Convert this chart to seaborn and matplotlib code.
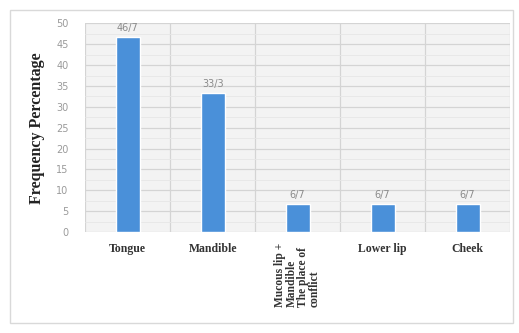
import matplotlib
matplotlib.use("Agg")
import matplotlib.pyplot as plt
from matplotlib.patches import Rectangle
from matplotlib.ticker import MultipleLocator
import seaborn as sns
import pandas as pd

# Lesion sites and their frequency percentages
sites = ["Tongue", "Mandible", "Mucous lip +\nMandible\nThe place of\nconflict", "Lower lip", "Cheek"]
percentages = [46.7, 33.3, 6.7, 6.7, 6.7]
value_labels = ["46/7", "33/3", "6/7", "6/7", "6/7"]
y_ticks = [0, 5, 10, 15, 20, 25, 30, 35, 40, 45, 50]

df = pd.DataFrame({"site": sites, "pct": percentages})

sns.set_theme(style="white")
plt.rcParams["font.family"] = ["DejaVu Sans"]

fig = plt.figure(figsize=(5.19, 3.33), dpi=100)
fig.patch.set_facecolor("white")
fig.add_artist(Rectangle((0.02, 0.03), 0.968, 0.94, transform=fig.transFigure,
                         fill=False, edgecolor="#d9d9d9", linewidth=1.0))

ax = fig.add_axes([0.164, 0.303, 0.819, 0.627])
ax.set_facecolor("#f3f3f3")

sns.barplot(data=df, x="site", y="pct", color="#4A90D9", width=0.28,
            saturation=1, ax=ax, zorder=3)

ax.set_ylim(0, 50)
ax.set_xlim(-0.5, len(sites) - 0.5)
ax.set_yticks(y_ticks)
ax.yaxis.set_minor_locator(MultipleLocator(2.5))
ax.set_xticks([i + 0.5 for i in range(-1, len(sites))], minor=True)

ax.grid(axis="y", which="major", color="#d4d4d4", linewidth=0.9, zorder=0)
ax.grid(axis="y", which="minor", color="#e6e6e6", linewidth=0.6, zorder=0)
ax.grid(axis="x", which="minor", color="#d4d4d4", linewidth=0.9, zorder=0)
ax.set_axisbelow(True)

for s in ax.spines.values():
    s.set_visible(False)

ax.tick_params(axis="both", which="both", length=0)
ax.tick_params(axis="y", labelsize=7, labelcolor="#9a9a9a", pad=12)

ax.set_xlabel("")
ax.set_ylabel("Frequency Percentage", fontsize=11.5, fontweight="bold",
              family=["Liberation Serif"], color="#222222", labelpad=8)

ax.set_xticks(range(len(sites)))
ax.set_xticklabels([])
for i, name in enumerate(sites):
    if "\n" in name:
        ax.text(i, -2.6, name, rotation=90, ha="center", va="top",
                multialignment="left", fontsize=8.3, fontweight="bold",
                family=["Liberation Serif"], color="#333333", linespacing=0.95)
    else:
        ax.text(i, -2.6, name, ha="center", va="top", fontsize=8.5,
                fontweight="bold", family=["Liberation Serif"], color="#333333")

ax.bar_label(ax.containers[0], labels=value_labels, padding=3, fontsize=7,
             color="#8a8a8a")

fig.savefig("out.png", dpi=100)
